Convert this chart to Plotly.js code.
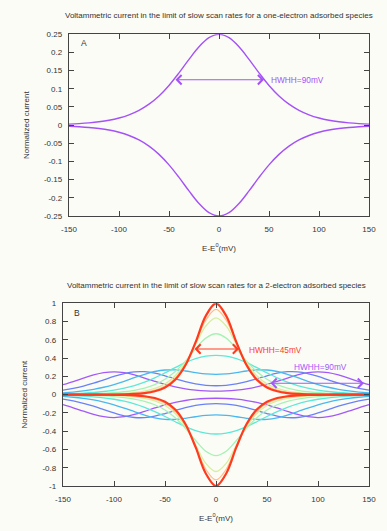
<!DOCTYPE html>
<html>
<head>
<meta charset="utf-8">
<script src="https://cdn.plot.ly/plotly-3.0.1.min.js"></script>
<style>
html,body{margin:0;padding:0;background:#fcfcf7;}
#chart{width:387px;height:531px;}
</style>
</head>
<body>
<div id="chart"></div>
<script>
// Potential E - E0 (mV)
const potential = [-150,-140,-130,-120,-110,-100,-90,-80,-70,-60,-50,-40,-30,-20,-10,0,10,20,30,40,50,60,70,80,90,100,110,120,130,140,150];

// Panel A: one-electron adsorbed species (forward scan current)
const oneElectron = [0.0029,0.0043,0.0063,0.0092,0.0134,0.0196,0.0284,0.0407,0.0577,0.0804,0.1093,0.1438,0.1810,0.2156,0.2408,0.2500,0.2408,0.2156,0.1810,0.1438,0.1093,0.0804,0.0577,0.0407,0.0284,0.0196,0.0134,0.0092,0.0063,0.0043,0.0029];

// Panel B: two-electron adsorbed species, family of curves (forward scan current)
const twoElPurple = [0.1094,0.1438,0.1811,0.2158,0.2410,0.2504,0.2414,0.2166,0.1823,0.1458,0.1123,0.0847,0.0640,0.0499,0.0418,0.0392,0.0418,0.0499,0.0640,0.0847,0.1123,0.1458,0.1823,0.2166,0.2414,0.2504,0.2410,0.2158,0.1811,0.1438,0.1094];
const twoElBlue = [0.0486,0.0684,0.0943,0.1262,0.1628,0.1999,0.2313,0.2500,0.2512,0.2352,0.2069,0.1737,0.1425,0.1180,0.1026,0.0974,0.1026,0.1180,0.1425,0.1737,0.2069,0.2352,0.2512,0.2500,0.2313,0.1999,0.1628,0.1262,0.0943,0.0684,0.0486];
const twoElSky = [0.0196,0.0284,0.0409,0.0581,0.0811,0.1106,0.1461,0.1854,0.2233,0.2535,0.2700,0.2706,0.2588,0.2418,0.2276,0.2222,0.2276,0.2418,0.2588,0.2706,0.2700,0.2535,0.2233,0.1854,0.1461,0.1106,0.0811,0.0581,0.0409,0.0284,0.0196];
const twoElCyan = [0.0076,0.0112,0.0164,0.0239,0.0347,0.0501,0.0714,0.1003,0.1380,0.1848,0.2389,0.2961,0.3499,0.3933,0.4210,0.4305,0.4210,0.3933,0.3499,0.2961,0.2389,0.1848,0.1380,0.1003,0.0714,0.0501,0.0347,0.0239,0.0164,0.0112,0.0076];
const twoElGreen = [0.0029,0.0043,0.0064,0.0095,0.0142,0.0212,0.0318,0.0479,0.0725,0.1104,0.1680,0.2525,0.3674,0.5017,0.6188,0.6667,0.6188,0.5017,0.3674,0.2525,0.1680,0.1104,0.0725,0.0479,0.0318,0.0212,0.0142,0.0095,0.0064,0.0043,0.0029];
const twoElYellow = [0.0011,0.0017,0.0026,0.0039,0.0059,0.0092,0.0146,0.0238,0.0397,0.0680,0.1184,0.2064,0.3499,0.5495,0.7512,0.8411,0.7512,0.5495,0.3499,0.2064,0.1184,0.0680,0.0397,0.0238,0.0146,0.0092,0.0059,0.0039,0.0026,0.0017,0.0011];
const twoElOrange = [0.0005,0.0007,0.0011,0.0017,0.0027,0.0046,0.0078,0.0140,0.0259,0.0491,0.0945,0.1811,0.3346,0.5662,0.8169,0.9334,0.8169,0.5662,0.3346,0.1811,0.0945,0.0491,0.0259,0.0140,0.0078,0.0046,0.0027,0.0017,0.0011,0.0007,0.0005];
const twoElRed = [0.0000,0.0001,0.0002,0.0004,0.0008,0.0017,0.0036,0.0079,0.0171,0.0368,0.0783,0.1629,0.3217,0.5750,0.8625,1.0000,0.8625,0.5750,0.3217,0.1629,0.0783,0.0368,0.0171,0.0079,0.0036,0.0017,0.0008,0.0004,0.0002,0.0001,0.0000];

// Tick labels
const xTickVals = [-150,-100,-50,0,50,100,150];
const xTickText = ["-150","-100","-50","0","50","100","150"];
const yTickValsA = [-0.25,-0.2,-0.15,-0.1,-0.05,0,0.05,0.1,0.15,0.2,0.25];
const yTickTextA = ["-0.25","-0.2","-0.15","-0.1","-0.05","0","0.05","0.1","0.15","0.2","0.25"];
const yTickValsB = [-1,-0.8,-0.6,-0.4,-0.2,0,0.2,0.4,0.6,0.8,1];
const yTickTextB = ["-1","-0.8","-0.6","-0.4","-0.2","0","0.2","0.4","0.6","0.8","1"];

const purpleA = '#a452f7';
const FONT = 'Liberation Sans, Arial, sans-serif';
const TXT = '#333333';

const traces = [];
function addLoop(vals, color, width, xa, ya) {
  traces.push({x: potential, y: vals, type: 'scatter', mode: 'lines',
    line: {color: color, width: width, shape: 'spline', smoothing: 1},
    xaxis: xa, yaxis: ya, hoverinfo: 'skip'});
  traces.push({x: potential, y: vals.map(v => -v), type: 'scatter', mode: 'lines',
    line: {color: color, width: width, shape: 'spline', smoothing: 1},
    xaxis: xa, yaxis: ya, hoverinfo: 'skip'});
}
addLoop(oneElectron, purpleA, 1.4, 'x', 'y');

const family = [
  [twoElPurple, '#a259f7', 1.3],
  [twoElBlue, '#6a82f7', 1.3],
  [twoElSky, '#4ab8ee', 1.3],
  [twoElCyan, '#5ee8d6', 1.3],
  [twoElGreen, '#a6f2b4', 1.3],
  [twoElYellow, '#d6eea0', 1.3],
  [twoElOrange, '#ffbf8a', 1.3],
  [twoElRed, '#ff3b1f', 2.2]
];
family.forEach(f => addLoop(f[0], f[1], f[2], 'x2', 'y2'));

function xAxis(domain, anchor) {
  return {domain: domain, anchor: anchor, range: [-150, 150],
    tickmode: 'array', tickvals: xTickVals, ticktext: xTickText,
    ticks: 'inside', ticklen: 5, tickwidth: 1, tickcolor: '#444',
    showline: true, linecolor: '#444', linewidth: 1.2, mirror: 'ticks',
    showgrid: false, zeroline: false, ticklabelstandoff: 5,
    tickfont: {family: FONT, size: 8, color: TXT},
    title: {text: 'E-E<sup>0</sup>(mV)', font: {family: FONT, size: 8, color: TXT}, standoff: 12}};
}
function yAxis(domain, anchor, range, vals, text) {
  return {domain: domain, anchor: anchor, range: range,
    tickmode: 'array', tickvals: vals, ticktext: text,
    ticks: 'inside', ticklen: 5, tickwidth: 1, tickcolor: '#444',
    showline: true, linecolor: '#444', linewidth: 1.2, mirror: 'ticks',
    showgrid: false, zeroline: false, ticklabelstandoff: 4,
    tickfont: {family: FONT, size: 8, color: TXT},
    title: {text: 'Normalized current', font: {family: FONT, size: 8, color: TXT}, standoff: 13}};
}

const layout = {
  width: 387, height: 531,
  margin: {l: 0, r: 0, t: 0, b: 0},
  paper_bgcolor: '#fcfcf7', plot_bgcolor: '#fcfcf7',
  showlegend: false,
  font: {family: FONT, size: 8, color: TXT},
  xaxis: xAxis([0.1783, 0.9535], 'y'),
  yaxis: yAxis([0.5932, 0.9354], 'x', [-0.25, 0.25], yTickValsA, yTickTextA),
  xaxis2: xAxis([0.1628, 0.9535], 'y2'),
  yaxis2: yAxis([0.0847, 0.4288], 'x2', [-1, 1], yTickValsB, yTickTextB),
  annotations: [
    {xref: 'paper', yref: 'paper', x: 219/387, y: 1 - 16/531, text: 'Voltammetric current in the limit of slow scan rates for a one-electron adsorbed species',
     showarrow: false, font: {family: FONT, size: 8, color: TXT}, xanchor: 'center', yanchor: 'middle'},
    {xref: 'paper', yref: 'paper', x: 216/387, y: 1 - 285/531, text: 'Voltammetric current in the limit of slow scan rates for a 2-electron adsorbed species',
     showarrow: false, font: {family: FONT, size: 8, color: TXT}, xanchor: 'center', yanchor: 'middle'},
    {xref: 'x', yref: 'y', x: -135, y: 0.226, text: 'A', showarrow: false, font: {family: FONT, size: 8.5, color: TXT}},
    {xref: 'x2', yref: 'y2', x: -136, y: 0.895, text: 'B', showarrow: false, font: {family: FONT, size: 8.5, color: TXT}},
    // Panel A arrow
    {xref: 'x', yref: 'y', x: 45, y: 0.125, axref: 'x', ayref: 'y', ax: -45, ay: 0.125, text: '',
     showarrow: true, arrowside: 'end+start', arrowhead: 4, arrowsize: 1.5, arrowwidth: 1.2, arrowcolor: purpleA, standoff: 0, startstandoff: 0},
    {xref: 'x', yref: 'y', x: 50, y: 0.125, text: 'HWHH=90mV', showarrow: false, xanchor: 'left',
     font: {family: FONT, size: 8.3, color: purpleA}},
    // Panel B arrows
    {xref: 'x2', yref: 'y2', x: 22.5, y: 0.5, axref: 'x2', ayref: 'y2', ax: -22.5, ay: 0.5, text: '',
     showarrow: true, arrowside: 'end+start', arrowhead: 4, arrowsize: 1.5, arrowwidth: 1.2, arrowcolor: '#ff3b1f', standoff: 0, startstandoff: 0},
    {xref: 'x2', yref: 'y2', x: 30, y: 0.49, text: 'HWHH=45mV', showarrow: false, xanchor: 'left',
     font: {family: FONT, size: 8.3, color: '#ff3b1f'}},
    {xref: 'x2', yref: 'y2', x: 145, y: 0.125, axref: 'x2', ayref: 'y2', ax: 52, ay: 0.125, text: '',
     showarrow: true, arrowside: 'end+start', arrowhead: 4, arrowsize: 1.5, arrowwidth: 1.2, arrowcolor: '#a259f7', standoff: 0, startstandoff: 0},
    {xref: 'x2', yref: 'y2', x: 74.5, y: 0.30, text: 'HWHH=90mV', showarrow: false, xanchor: 'left',
     font: {family: FONT, size: 8.3, color: '#a259f7'}}
  ]
};

Plotly.newPlot('chart', traces, layout, {staticPlot: true, displayModeBar: false});
</script>
</body>
</html>
